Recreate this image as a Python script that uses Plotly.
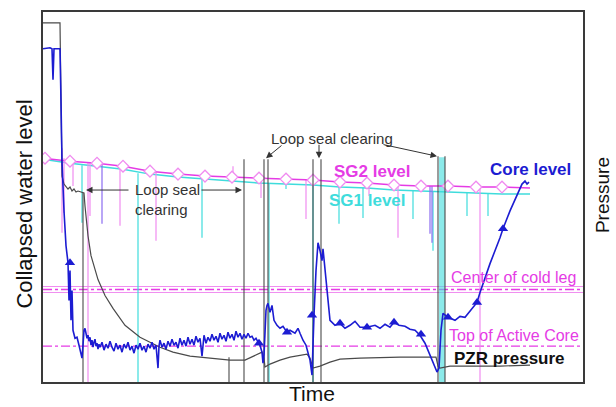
import plotly.graph_objects as go

# ---------------- data (arbitrary units: time 0..540, level 0..372) ----------------
core_t = [0, 7, 9, 10, 11, 17, 18, 19, 21, 23, 25, 26, 27, 28, 29, 30, 32, 34, 36, 38, 39, 40, 41,
          42, 43, 44, 45, 46, 47, 48, 49, 50, 51, 52, 53, 54, 55, 56, 57, 59, 61, 63, 65, 67, 69,
          71, 73, 75, 77, 79, 81, 83, 85, 87, 89, 91, 93, 95, 97, 99, 101, 103, 105, 107, 109,
          111, 113, 115, 116, 117, 119, 121, 123, 125, 127, 129, 131, 133, 135, 137, 139, 141,
          143, 145, 147, 149, 151, 153, 155, 157, 159, 160, 161, 163, 165, 167, 169, 171, 173,
          175, 177, 179, 181, 183, 185, 187, 189, 191, 193, 195, 197, 199, 201, 203, 205, 207,
          209, 211, 213, 215, 217, 219, 220, 221, 223, 224, 225, 227, 229, 231, 234, 237, 240,
          244, 247, 252, 255, 257, 260, 263, 265, 267, 269, 270, 271, 273, 275, 277, 279, 280,
          282, 285, 287, 292, 297, 302, 307, 312, 317, 324, 332, 337, 342, 347, 351, 356, 362,
          367, 372, 377, 382, 387, 391, 394, 396, 398, 400, 405, 412, 417, 422, 429, 434, 437,
          447, 457, 460, 467, 475, 479, 482, 484, 486]
core_level = [335, 336, 335, 304, 335, 335, 282, 222, 172, 137, 120, 82, 112, 62, 92, 52, 44, 45, 37,
              30, 24, 37, 52,
              54, 49, 44, 47, 41, 45, 37, 42, 35, 40, 43, 36, 39, 33, 38, 35, 40, 32, 38, 34, 41, 35,
              31, 39, 33, 37, 30, 38, 34, 40, 32, 36, 29, 37, 33, 39, 32, 36, 30, 38, 34, 40,
              33, 37, 14, 36, 42, 35, 39, 33, 41, 36, 43, 37, 40, 34, 44, 37, 42,
              36, 45, 38, 43, 37, 46, 40, 44, 26, 42, 47, 39, 45, 41, 48, 42, 46,
              40, 49, 43, 47, 41, 50, 44, 48, 42, 51, 45, 49, 43, 48, 44, 49, 45,
              46, 42, 44, 40, 37, 30, 19, 27, 72, 77, 79, 70, 77, 62, 57, 54, 56,
              50, 52, 49, 54, 49, 42, 37, 30, 22, 7, 42, 67, 112, 140, 132, 122, 134,
              112, 82, 62, 57, 59, 54, 57, 61, 55, 55, 57, 54, 58, 55, 60, 57, 56,
              53, 52, 47, 39, 27, 17, 10, 14, 52, 69, 65, 62, 66, 65, 74, 80, 90,
              119, 145, 154, 172, 190, 199, 202, 199, 201]
core_marker_t = [27, 216, 244, 269, 297, 324, 351, 378, 405, 434, 460]
core_marker_level = [120, 39, 50, 67, 59, 55, 60, 48, 65, 80, 154]

pzr_t = [0, 17, 18, 19, 21, 23, 25, 27, 29, 31, 33, 35, 40, 41, 42, 45, 48, 52, 55, 62, 70, 82,
         97, 117, 130, 147, 170, 187, 202, 219, 221, 222, 227, 237, 247, 257, 264, 267, 270,
         277, 287, 297, 317, 357, 393, 395, 397, 407, 457, 487]
pzr_pressure = [361, 361, 282, 207, 199, 196, 194, 196, 192, 194, 191, 192, 190, 190, 177, 147,
                127, 112, 103, 87, 74, 57, 45, 35, 30, 26, 24, 22, 22, 30, 24, 15, 18, 22, 25,
                27, 28, 24, 14, 16, 20, 23, 24, 25, 25, 16, 14, 16, 16, 17]

sg2_t = [0, 27, 54, 80, 107, 135, 162, 189, 216, 243, 270, 297, 324, 351, 378, 405, 433, 459, 487]
sg2_level = [225, 222, 220, 217, 212, 209, 207, 206, 205, 204, 203, 201, 200, 198, 197, 197, 196,
             196, 195]
sg2_marker_t = [2, 27, 54, 80, 107, 135, 162, 189, 216, 243, 270, 297, 324, 351, 378, 405, 433, 459]
sg2_marker_level = [225, 222, 220, 217, 212, 209, 207, 206, 205, 204, 203, 201, 200, 198, 197,
                    197, 196, 196]
sg2_spike_t = [19, 21, 30, 45, 47, 77, 113, 190, 218, 263, 326, 355, 437]
sg2_spike_top = [235, 225, 222, 221, 221, 217, 211, 206, 205, 203, 200, 198, 196]
sg2_spike_bottom = [150, 170, 197, 0, 167, 157, 142, 217, 185, 164, 187, 145, 0]

sg1_t = [0, 27, 54, 80, 107, 135, 162, 189, 216, 243, 270, 297, 324, 351, 378, 405, 433, 459, 487]
sg1_level = [224, 220, 217, 214, 209, 206, 204, 202, 200, 199, 198, 196, 195, 193, 192, 191, 190,
             189, 189]
sg1_spike_t = [39, 95, 159, 226, 243, 270, 296, 320, 370, 390, 397, 399, 401, 424, 445]
sg1_spike_top = [218, 210, 204, 200, 199, 198, 196, 195, 192, 192, 226, 226, 226, 190, 190]
sg1_spike_bottom = [160, 0, 145, 0, 194, 0, 159, 165, 164, 132, 0, 0, 0, 167, 167]

mix_spike_t = [59, 387, 389]
mix_spike_top = [220, 197, 197]
mix_spike_bottom = [159, 149, 140]

lsc_t = [40, 186, 201, 221, 225, 270, 278, 395, 402]
lsc_top = [190, 25, 224, 224, 224, 224, 224, 227, 227]

cold_leg_level = 93
cold_leg_band = [96, 90]
tac_level = 36
t_range = [0, 540]
level_range = [0, 372]

MAG = "#e53be5"
MAG_L = "#f08cf0"
CYA = "#3fdcdc"
BLU = "#1c1cd2"
GRY = "#4a4a4a"
FONT = "Liberation Sans, Arial, sans-serif"


def segs(ts, tops, bots):
    xs, ys = [], []
    for t, a, b in zip(ts, tops, bots):
        xs += [t, t, None]
        ys += [a, b, None]
    return xs, ys


fig = go.Figure()

# horizontal reference lines
for lv in cold_leg_band:
    fig.add_trace(go.Scatter(x=t_range, y=[lv, lv], mode="lines",
                             line=dict(color=MAG_L, width=1), hoverinfo="skip"))
fig.add_trace(go.Scatter(x=t_range, y=[cold_leg_level] * 2, mode="lines",
                         line=dict(color=MAG, width=1.3, dash="dashdot"), hoverinfo="skip"))
fig.add_trace(go.Scatter(x=t_range, y=[tac_level] * 2, mode="lines",
                         line=dict(color=MAG, width=1.3, dash="dashdot"), hoverinfo="skip"))

# SG1 (cyan)
x, y = segs(sg1_spike_t, sg1_spike_top, sg1_spike_bottom)
fig.add_trace(go.Scatter(x=x, y=y, mode="lines", line=dict(color=CYA, width=1.2),
                         hoverinfo="skip"))
fig.add_trace(go.Scatter(x=sg1_t, y=sg1_level, mode="lines", line=dict(color=CYA, width=1.5)))

# SG2 (magenta)
x, y = segs(sg2_spike_t, sg2_spike_top, sg2_spike_bottom)
fig.add_trace(go.Scatter(x=x, y=y, mode="lines", line=dict(color=MAG_L, width=1.2),
                         hoverinfo="skip"))
x, y = segs(mix_spike_t, mix_spike_top, mix_spike_bottom)
fig.add_trace(go.Scatter(x=x, y=y, mode="lines", line=dict(color="#8a6cf0", width=1.2),
                         hoverinfo="skip"))
fig.add_trace(go.Scatter(x=sg2_t, y=sg2_level, mode="lines", line=dict(color=MAG, width=1.5)))
fig.add_trace(go.Scatter(x=sg2_marker_t, y=sg2_marker_level, mode="markers",
                         marker=dict(symbol="diamond", size=9, color="white",
                                     line=dict(color=MAG_L, width=1.3))))

# loop seal clearing vertical lines
x, y = segs(lsc_t, lsc_top, [0] * len(lsc_t))
fig.add_trace(go.Scatter(x=x, y=y, mode="lines", line=dict(color=GRY, width=1.1),
                         hoverinfo="skip"))

# PZR pressure
fig.add_trace(go.Scatter(x=pzr_t, y=pzr_pressure, mode="lines", line=dict(color=GRY, width=1.2)))

# core level
fig.add_trace(go.Scatter(x=core_t, y=core_level, mode="lines", line=dict(color=BLU, width=1.6)))
fig.add_trace(go.Scatter(x=core_marker_t, y=core_marker_level, mode="markers",
                         marker=dict(symbol="triangle-up", size=9, color=BLU)))

anns = []


def txt(t, lv, s, color, size, bold=False, xanchor="center", align="center"):
    anns.append(dict(x=t, y=lv, xref="x", yref="y", text=f"<b>{s}</b>" if bold else s,
                     showarrow=False, xanchor=xanchor, yanchor="middle", align=align,
                     font=dict(family=FONT, size=size, color=color)))


def arrow(t0, l0, t1, l1):
    anns.append(dict(x=t1, y=l1, ax=t0, ay=l0, xref="x", yref="y", axref="x", ayref="y",
                     text="", showarrow=True, arrowhead=2, arrowsize=1.3, arrowwidth=1,
                     arrowcolor="#333333"))


txt(90, 183, "Loop seal<br>clearing", "#333333", 15, xanchor="left", align="left")
txt(289, 245, "Loop seal clearing", "#333333", 15)
txt(329, 212, "SG2 level", MAG, 17, bold=True)
txt(324, 182, "SG1 level", CYA, 17, bold=True)
txt(487, 214, "Core level", BLU, 17, bold=True)
txt(406, 105, "Center of cold leg", MAG, 16, xanchor="left")
txt(404, 47, "Top of Active Core", MAG, 16, xanchor="left")
txt(409, 24, "PZR pressure", "#111111", 17, bold=True, xanchor="left")

arrow(87, 193, 43, 193)
arrow(157, 193, 199, 193)
arrow(240, 239, 223, 225)
arrow(276, 240, 276, 225)
arrow(339, 239, 394, 227)

# axis titles
anns.append(dict(x=-0.036, y=0.481, xref="paper", yref="paper", text="Collapsed water level",
                 textangle=-90, showarrow=False, xanchor="center", yanchor="middle",
                 font=dict(family=FONT, size=22, color="#111111")))
anns.append(dict(x=1.035, y=0.505, xref="paper", yref="paper", text="Pressure",
                 textangle=-90, showarrow=False, xanchor="center", yanchor="middle",
                 font=dict(family=FONT, size=19, color="#111111")))
anns.append(dict(x=0.498, y=-0.032, xref="paper", yref="paper", text="Time",
                 showarrow=False, xanchor="center", yanchor="middle",
                 font=dict(family=FONT, size=21, color="#111111")))

fig.update_layout(
    width=616, height=407,
    margin=dict(l=43, r=33, t=10, b=25),
    paper_bgcolor="white", plot_bgcolor="white",
    showlegend=False,
    annotations=anns,
    xaxis=dict(range=t_range, showgrid=False, zeroline=False, showticklabels=False,
               ticks="", showline=True, mirror=True, linecolor="#3a3a3a", linewidth=2),
    yaxis=dict(range=level_range, showgrid=False, zeroline=False, showticklabels=False,
               ticks="", showline=True, mirror=True, linecolor="#3a3a3a", linewidth=2),
)

fig.write_html("out.html", config={"displayModeBar": False},
               post_script="document.body.style.margin='0';document.body.style.overflow='hidden';")
